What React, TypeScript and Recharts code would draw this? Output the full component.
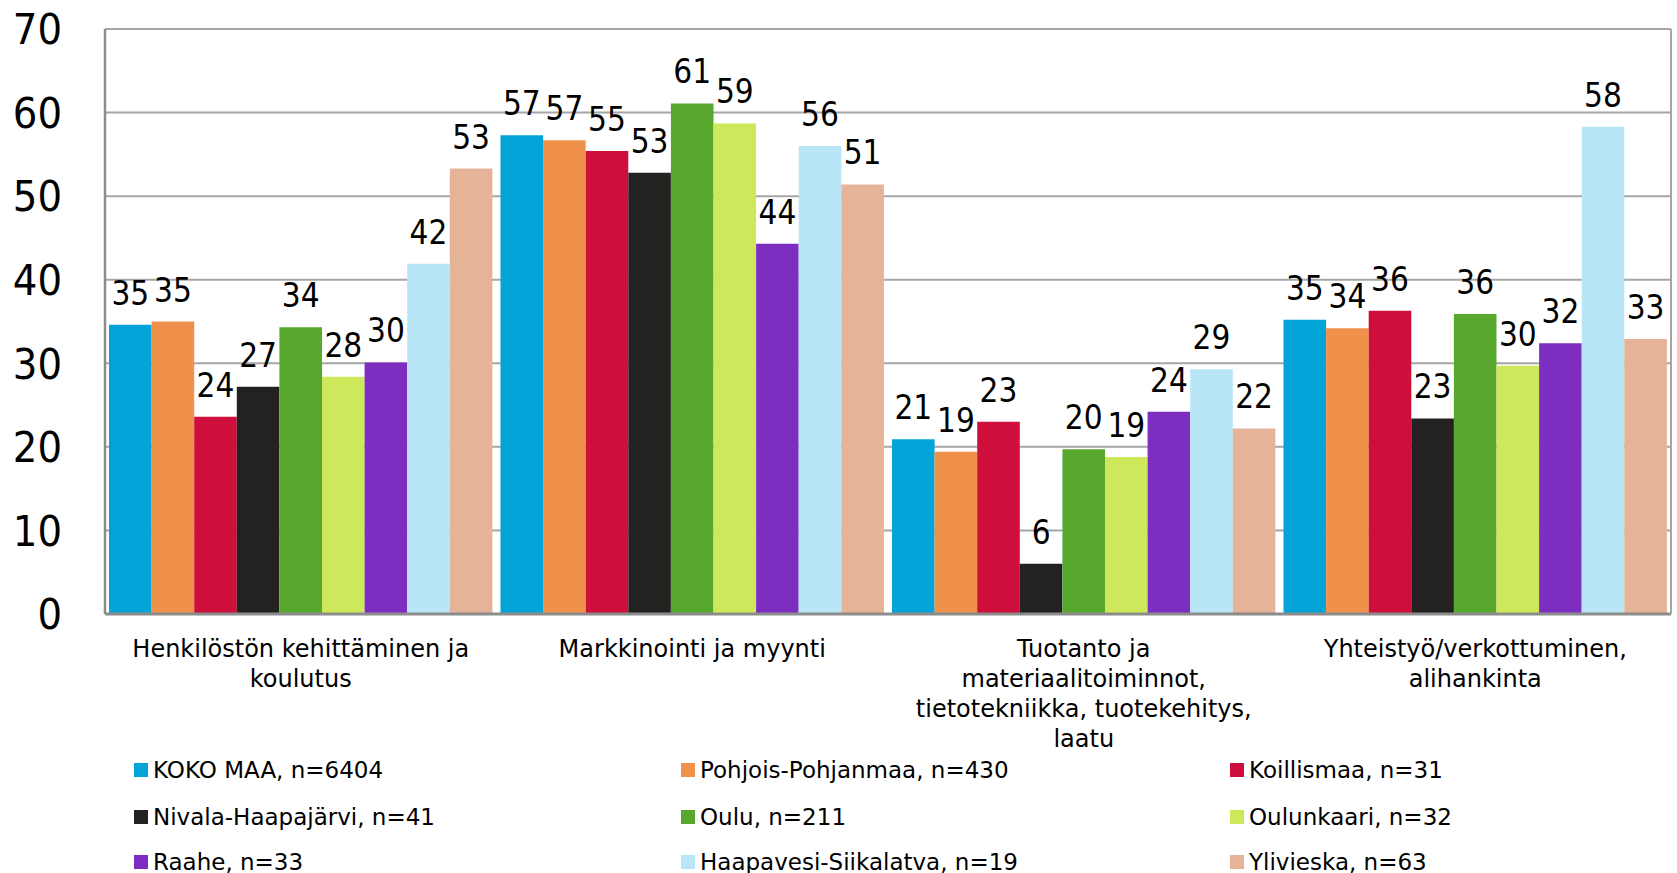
import React from "react";
import { BarChart, Bar, XAxis, YAxis, CartesianGrid, LabelList, Legend } from "recharts";

const categories = [
  "Henkilöstön kehittäminen ja\nkoulutus",
  "Markkinointi ja myynti",
  "Tuotanto ja\nmateriaalitoiminnot,\ntietotekniikka, tuotekehitys,\nlaatu",
  "Yhteistyö/verkottuminen,\nalihankinta",
];

const seriesNames = [
  "KOKO MAA, n=6404",
  "Pohjois-Pohjanmaa, n=430",
  "Koillismaa, n=31",
  "Nivala-Haapajärvi, n=41",
  "Oulu, n=211",
  "Oulunkaari, n=32",
  "Raahe, n=33",
  "Haapavesi-Siikalatva, n=19",
  "Ylivieska, n=63",
];

const seriesColors = [
  "#03A5D9",
  "#F0914B",
  "#CE0F3C",
  "#232221",
  "#58A82D",
  "#CDE85A",
  "#7D2EC0",
  "#B8E6F7",
  "#E5B398",
];

const kokoMaa = [34.6, 57.3, 20.9, 35.2];
const pohjoisPohjanmaa = [35.0, 56.7, 19.4, 34.2];
const koillismaa = [23.6, 55.4, 23.0, 36.3];
const nivalaHaapajarvi = [27.2, 52.8, 6.0, 23.4];
const oulu = [34.3, 61.1, 19.7, 35.9];
const oulunkaari = [28.4, 58.7, 18.8, 29.7];
const raahe = [30.1, 44.3, 24.2, 32.4];
const haapavesiSiikalatva = [41.9, 56.0, 29.3, 58.3];
const ylivieska = [53.3, 51.4, 22.2, 32.9];

const yTicks = [0, 10, 20, 30, 40, 50, 60, 70];

const seriesValues = [
  kokoMaa,
  pohjoisPohjanmaa,
  koillismaa,
  nivalaHaapajarvi,
  oulu,
  oulunkaari,
  raahe,
  haapavesiSiikalatva,
  ylivieska,
];

const data = categories.map((c, i) => {
  const row: Record<string, any> = { category: c };
  seriesNames.forEach((s, j) => {
    row["s" + j] = seriesValues[j][i];
  });
  return row;
});

const FONT_C = "'DejaVu Sans Condensed', 'DejaVu Sans', sans-serif";
const FONT = "'DejaVu Sans', sans-serif";

const XTick = (props: any) => {
  const { x, y, payload } = props;
  const lines = String(payload.value).split("\n");
  return (
    <g>
      {lines.map((ln: string, i: number) => (
        <text
          key={i}
          x={x}
          y={y + 41 + i * 30}
          textAnchor="middle"
          fontSize={24}
          fontFamily={FONT}
          fill="#000"
        >
          {ln}
        </text>
      ))}
    </g>
  );
};

const legendCols = [134, 681, 1230];
const legendRows = [770, 817, 862];
const LEGEND_TOP = 745;

const renderLegend = () => {
  return (
    <div style={{ position: "relative", width: 1677, height: 128 }}>
      {seriesNames.map((name, i) => {
        const col = i % 3;
        const row = Math.floor(i / 3);
        return (
          <div
            key={name}
            style={{
              position: "absolute",
              left: legendCols[col],
              top: legendRows[row] - LEGEND_TOP - 15,
              height: 30,
              display: "flex",
              alignItems: "center",
              whiteSpace: "nowrap",
              fontFamily: FONT,
              fontSize: 23,
              color: "#000",
            }}
          >
            <span
              style={{
                display: "inline-block",
                width: 14,
                height: 14,
                background: seriesColors[i],
                marginRight: 5,
              }}
            />
            <span>{name}</span>
          </div>
        );
      })}
    </div>
  );
};

export default function App() {
  return (
    <div style={{ position: "absolute", left: 0, top: 0, width: 1677, height: 873, background: "#fff", fontFamily: FONT }}>
      <BarChart
        width={1677}
        height={873}
        data={data}
        margin={{ top: 29, right: 5, left: 0, bottom: 0 }}
        barSize={42.6}
        barGap={0}
      >
        <CartesianGrid horizontal={true} vertical={false} stroke="#A6A6A6" strokeWidth={2} yAxisId="left" />
        <XAxis
          dataKey="category"
          height={131}
          tick={<XTick />}
          tickLine={false}
          tickSize={0}
          axisLine={{ stroke: "#8C8C8C", strokeWidth: 3 }}
          interval={0}
        />
        <YAxis
          yAxisId="left"
          domain={[0, 70]}
          ticks={yTicks}
          width={105}
          tickLine={false}
          tickSize={0}
          tickMargin={43}
          axisLine={{ stroke: "#8C8C8C", strokeWidth: 2.5 }}
          tick={{ fontSize: 43, fill: "#000", fontFamily: FONT_C, style: { fontStretch: "condensed" } } as any}
        />
        <YAxis
          yAxisId="right"
          orientation="right"
          domain={[0, 70]}
          width={1}
          tick={false}
          tickLine={false}
          axisLine={{ stroke: "#A6A6A6", strokeWidth: 2 }}
        />
        <Legend
          verticalAlign="bottom"
          height={128}
          wrapperStyle={{ position: "absolute", left: 0, top: LEGEND_TOP, width: 1677, height: 128 }}
          content={renderLegend}
        />
        {seriesNames.map((name, j) => (
          <Bar
            key={name}
            yAxisId="left"
            dataKey={"s" + j}
            name={name}
            fill={seriesColors[j]}
            isAnimationActive={false}
          >
            <LabelList
              dataKey={"s" + j}
              position="top"
              offset={20}
              formatter={(v: any) => Math.round(Number(v))}
              fill="#000"
              fontSize={33}
              fontFamily={FONT_C}
              style={{ fontStretch: "condensed" }}
            />
          </Bar>
        ))}
      </BarChart>
    </div>
  );
}
